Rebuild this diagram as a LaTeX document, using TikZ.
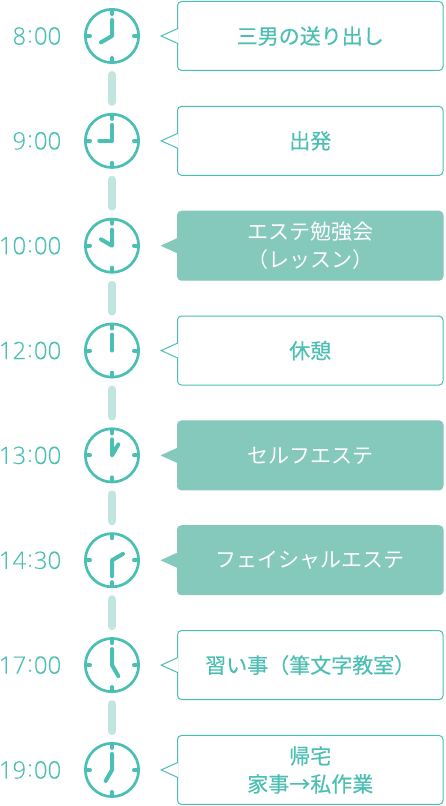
\documentclass[tikz,border=0pt]{standalone}
\usepackage{fontspec}
\usepackage{xcolor}
\usetikzlibrary{positioning, calc}
\setmainfont{Open Sans Light}[FakeBold=0.12]
\newfontfamily\jpfont{Noto Sans CJK JP}
\newfontfamily\jpheavy{Noto Sans CJK JP}[FakeBold=0.25]
\definecolor{clockteal}{HTML}{4BBFB3}
\definecolor{barteal}{HTML}{C2E5E0}
\definecolor{fillteal}{HTML}{85C8BC}

\tikzset{
  clockface/.style={circle, draw=clockteal, line width=2.7pt, fill=white, minimum size=53.3pt, inner sep=0pt},
  clockhand/.style={draw=clockteal, line width=4pt, line cap=round, line join=round},
  clocktick/.style={draw=clockteal, line width=4pt, line cap=round},
  timelabel/.style={text=clockteal, font=\fontsize{24}{26}\selectfont, inner sep=0pt, anchor=east},
  openbox/.style={rectangle, rounded corners=4pt, draw=clockteal, line width=1pt, fill=white, text=clockteal, minimum width=265.5pt, minimum height=69pt, inner sep=0pt, align=center, font=\jpheavy\fontsize{21}{28}\selectfont},
  solidbox/.style={openbox, draw=fillteal, fill=fillteal, text=white, font=\jpfont\fontsize{21}{28}\selectfont},
  linkbar/.style={draw=barteal, line width=7.5pt, line cap=round, shorten >=10.75pt, shorten <=10.75pt},
  openpointer/.style={draw=clockteal, line width=1pt, fill=white},
  solidpointer/.style={draw=fillteal, line width=0.5pt, fill=fillteal},
}
% one clock: name, hour hand angle, minute hand angle
\newcommand{\clockhands}[3]{
  \draw[clocktick] ($(#1.north)+(0,-3pt)$) -- ++(0,-3pt);
  \draw[clocktick] ($(#1.south)+(0,3pt)$) -- ++(0,3pt);
  \draw[clocktick] ($(#1.east)+(-3pt,0)$) -- ++(-3pt,0);
  \draw[clocktick] ($(#1.west)+(3pt,0)$) -- ++(3pt,0);
  \draw[clockhand] (#1.center) ++(#3:16pt) -- (#1.center) -- ++(#2:12.7pt);
}
% raised colon of the times
\newcommand{\tcolon}{\kern1pt\raisebox{2pt}{:}\kern1pt}
% pointer on the left of a box
\newcommand{\boxpointer}[2]{
  \draw[#2] ($(#1.west)+(1.2pt,7.7pt)$) -- ++(-17pt,-7.7pt) -- ++(17pt,-7.7pt);
}

\begin{document}
\begin{tikzpicture}[x=1pt, y=1pt, node distance=104.85pt]
\useasboundingbox (0,0) rectangle (445,806);

\node (clock1) [clockface] at (112,770) {};
\node (clock2) [clockface, below of=clock1] {};
\node (clock3) [clockface, below of=clock2] {};
\node (clock4) [clockface, below of=clock3] {};
\node (clock5) [clockface, below of=clock4] {};
\node (clock6) [clockface, below of=clock5] {};
\node (clock7) [clockface, below of=clock6] {};
\node (clock8) [clockface, below of=clock7] {};

\node (time1) [timelabel, left=22.5pt of clock1, anchor=east] {8\tcolon00};
\node (time2) [timelabel, left=22.5pt of clock2, anchor=east] {9\tcolon00};
\node (time3) [timelabel, left=22.5pt of clock3, anchor=east] {10\tcolon00};
\node (time4) [timelabel, left=22.5pt of clock4, anchor=east] {12\tcolon00};
\node (time5) [timelabel, left=22.5pt of clock5, anchor=east] {13\tcolon00};
\node (time6) [timelabel, left=22.5pt of clock6, anchor=east] {14\tcolon30};
\node (time7) [timelabel, left=22.5pt of clock7, anchor=east] {17\tcolon00};
\node (time8) [timelabel, left=22.5pt of clock8, anchor=east] {19\tcolon00};

\node (task1) [openbox, right=37pt of clock1] {三男の送り出し};
\node (task2) [openbox, right=37pt of clock2] {出発};
\node (task3) [solidbox, right=37pt of clock3] {エステ勉強会\\（レッスン）};
\node (task4) [openbox, right=37pt of clock4] {休憩};
\node (task5) [solidbox, right=37pt of clock5] {セルフエステ};
\node (task6) [solidbox, right=37pt of clock6] {フェイシャルエステ};
\node (task7) [openbox, right=37pt of clock7] {習い事（筆文字教室）};
\node (task8) [openbox, right=37pt of clock8] {帰宅\\家事→私作業};

\draw [linkbar] (clock1) -- (clock2);
\draw [linkbar] (clock2) -- (clock3);
\draw [linkbar] (clock3) -- (clock4);
\draw [linkbar] (clock4) -- (clock5);
\draw [linkbar] (clock5) -- (clock6);
\draw [linkbar] (clock6) -- (clock7);
\draw [linkbar] (clock7) -- (clock8);

\clockhands{clock1}{210}{90}
\clockhands{clock2}{180}{90}
\clockhands{clock3}{150}{90}
\clockhands{clock4}{90}{90}
\clockhands{clock5}{60}{90}
\clockhands{clock6}{30}{270}
\clockhands{clock7}{300}{90}
\clockhands{clock8}{240}{90}

\boxpointer{task1}{openpointer}
\boxpointer{task2}{openpointer}
\boxpointer{task3}{solidpointer}
\boxpointer{task4}{openpointer}
\boxpointer{task5}{solidpointer}
\boxpointer{task6}{solidpointer}
\boxpointer{task7}{openpointer}
\boxpointer{task8}{openpointer}
\end{tikzpicture}
\end{document}
